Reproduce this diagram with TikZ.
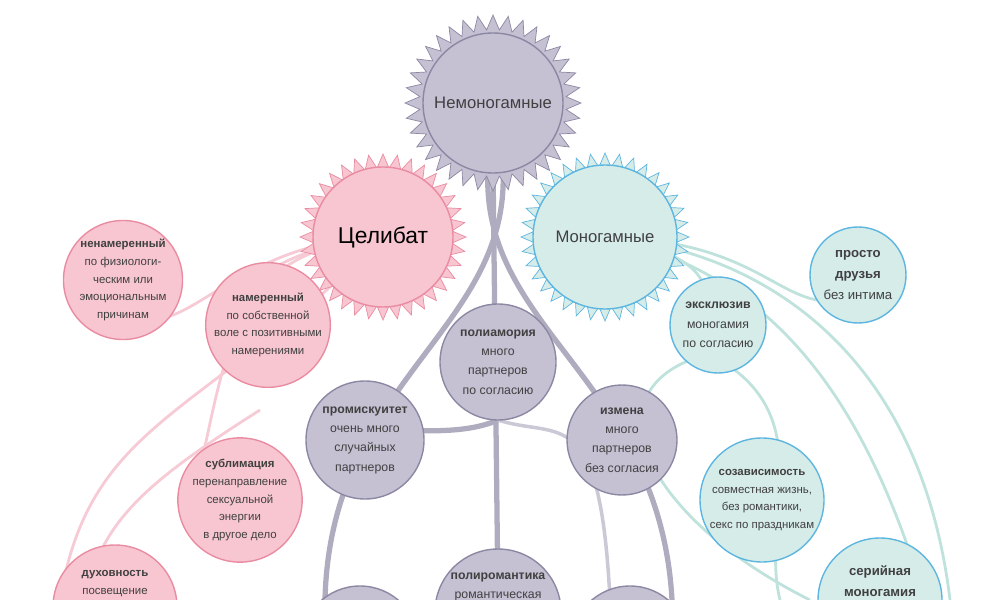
\documentclass[tikz,border=0pt]{standalone}
\usepackage{fontspec}
\setmainfont{Liberation Sans}
\usetikzlibrary{shapes.geometric}
\definecolor{purfill}{HTML}{C5C1D3}
\definecolor{purline}{HTML}{8C88A3}
\definecolor{pinkfill}{HTML}{F7C6D1}
\definecolor{pinkline}{HTML}{EA8CA1}
\definecolor{tealfill}{HTML}{D6ECE9}
\definecolor{tealline}{HTML}{5DB6E0}
\definecolor{tealtube}{HTML}{BFE3DC}
\tikzset{
  bubble/.style={circle, draw, line width=0.8pt, align=center, font=\fontsize{6.5}{10}\selectfont, text=black!75, inner sep=0pt},
  pur/.style={bubble, fill=purfill, draw=purline},
  pink/.style={bubble, fill=pinkfill, draw=pinkline},
  teal/.style={bubble, fill=tealfill, draw=tealline},
  spikes/.style={star, star points=36, star point ratio=1.2, inner sep=0pt},
  tube/.style={line width=3pt, draw=purline!70},
  pinktube/.style={line width=1.6pt, draw=pinkline!45},
  tealtube/.style={line width=1.6pt, draw=tealtube},
}
\begin{document}
\begin{tikzpicture}[x=0.2mm, y=-0.2mm]
\useasboundingbox (0,0) rectangle (1000,600);
\clip (0,0) rectangle (1000,600);

% coordinates for the tubes
\coordinate (cel) at (383,237);
\coordinate (mono) at (605,237);

% tubes
\draw[tube] (493,165) -- (498,600);
\draw[tube] (488,170) .. controls (480,330) and (660,380) .. (672,600);
\draw[tube] (503,170) .. controls (510,330) and (330,380) .. (325,600);
\draw[tube] (498,420) .. controls (430,450) and (310,400) .. (340,470);
\draw[tube, draw=purline!45, line width=2pt] (498,420) .. controls (560,440) and (600,400) .. (610,600);
\draw[pinktube] (cel) .. controls (250,240) and (200,320) .. (150,320);
\draw[pinktube] (cel) .. controls (260,250) and (220,300) .. (230,360);
\draw[pinktube] (cel) .. controls (240,250) and (230,330) .. (200,470);
\draw[pinktube] (cel) .. controls (200,420) and (90,420) .. (60,600);
\draw[pinktube] (260,410) .. controls (150,480) and (100,520) .. (85,600);
\draw[tealtube] (mono) .. controls (760,240) and (780,310) .. (840,300);
\draw[tealtube] (mono) .. controls (690,250) and (720,280) .. (700,320);
\draw[tealtube] (mono) .. controls (760,250) and (920,350) .. (950,600);
\draw[tealtube] (mono) .. controls (760,270) and (860,380) .. (925,600);
\draw[tealtube] (690,360) .. controls (590,400) and (650,520) .. (810,600);
\draw[tealtube] (720,360) .. controls (820,420) and (760,520) .. (780,600);

% spiky roots
\node[spikes, fill=purfill, draw=purline, minimum size=176*0.2mm] at (493,103) {};
\node[spikes, fill=pinkfill, draw=pinkline, minimum size=166*0.2mm] at (383,237) {};
\node[spikes, fill=tealfill, draw=tealline, minimum size=168*0.2mm] at (605,237) {};

\node[pur, minimum size=140*0.2mm, font=\fontsize{9.5}{11}\selectfont] (nonmono) at (493,103) {Немоногамные};
\node[pink, minimum size=140*0.2mm, font=\fontsize{13}{15}\selectfont, text=black] (celibacy) at (383,237) {Целибат};
\node[teal, minimum size=144*0.2mm, font=\fontsize{9.5}{11}\selectfont] (monogamous) at (605,237) {Моногамные};

% pink
\node[pink, minimum size=96*0.2mm] (unintended) at (123,280) {\textbf{ненамеренный}\\по физиологи-\\ческим или\\эмоциональным\\причинам};
\node[pink, minimum size=96*0.2mm] (intended) at (268,325) {\textbf{намеренный}\\по собственной\\воле с позитивными\\намерениями};
\node[pink, minimum size=124*0.2mm] (sublimation) at (240,500) {\textbf{сублимация}\\перенаправление\\сексуальной\\энергии\\в другое дело};
\node[pink, minimum size=124*0.2mm, text depth=28pt] (spirit) at (115,607) {\textbf{духовность}\\посвещение};

% purple
\node[pur, minimum size=116*0.2mm, font=\fontsize{7}{11}\selectfont] (polyamory) at (498,362) {\textbf{полиамория}\\много\\партнеров\\по согласию};
\node[pur, minimum size=118*0.2mm, font=\fontsize{7}{11}\selectfont] (promisc) at (365,440) {\textbf{промискуитет}\\очень много\\случайных\\партнеров};
\node[pur, minimum size=110*0.2mm, font=\fontsize{7}{11}\selectfont] (cheating) at (622,440) {\textbf{измена}\\много\\партнеров\\без согласия};
\node[pur, minimum size=126*0.2mm, font=\fontsize{7}{11}\selectfont, text depth=30pt] (polyrom) at (498,612) {\textbf{полиромантика}\\романтическая};
\node[pur, minimum size=118*0.2mm] (botleft) at (360,645) {};
\node[pur, minimum size=118*0.2mm] (botright) at (630,645) {};

% teal
\node[teal, minimum size=96*0.2mm, font=\fontsize{7.5}{12}\selectfont] (friends) at (858,275) {\textbf{просто}\\\textbf{друзья}\\без интима};
\node[teal, minimum size=96*0.2mm, font=\fontsize{7}{11}\selectfont] (exclusive) at (718,325) {\textbf{эксклюзив}\\моногамия\\по согласию};
\node[teal, minimum size=124*0.2mm] (codep) at (762,500) {\textbf{созависимость}\\совместная жизнь,\\без романтики,\\секс по праздникам};
\node[teal, minimum size=124*0.2mm, font=\fontsize{7.5}{12}\selectfont, text depth=22pt] (serial) at (880,600) {\textbf{серийная}\\\textbf{моногамия}};
\end{tikzpicture}
\end{document}
